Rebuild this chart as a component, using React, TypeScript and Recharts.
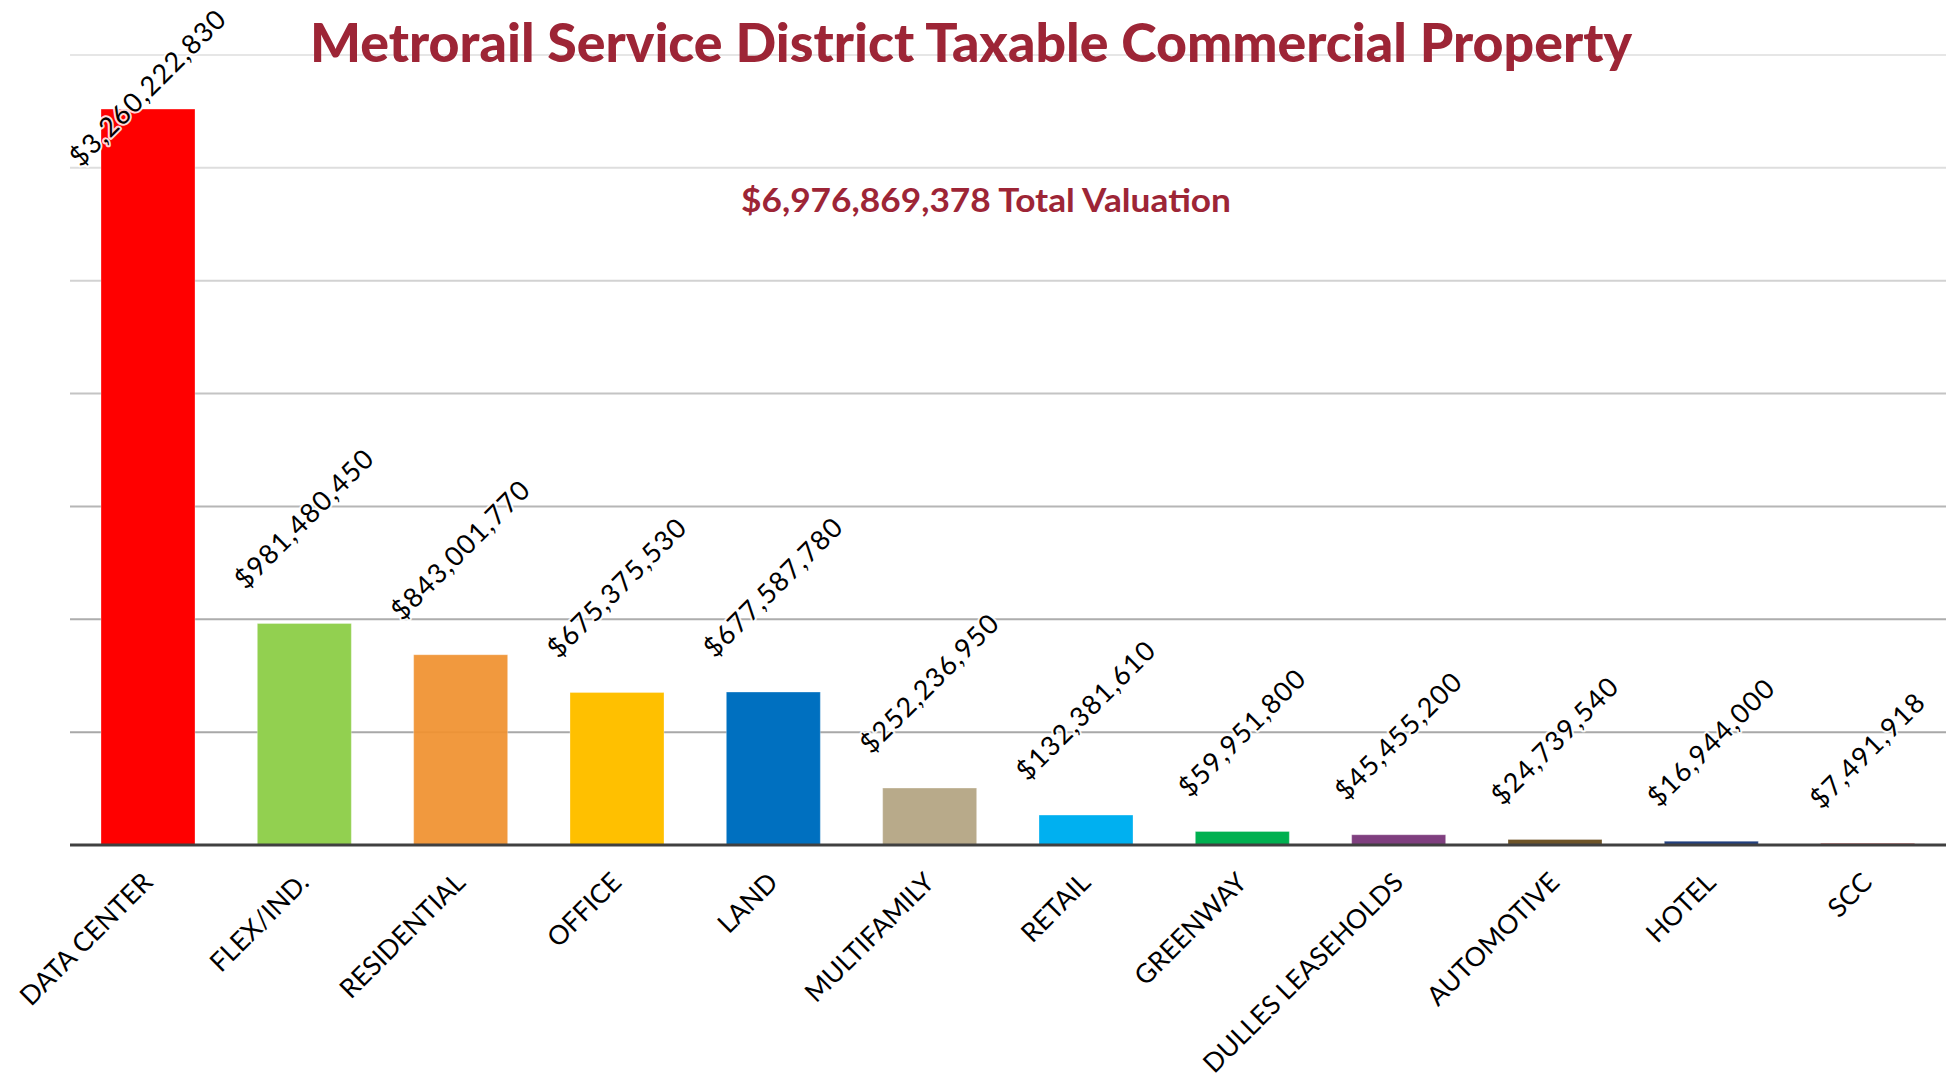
import React from 'react';
import { BarChart, Bar, XAxis, YAxis, Cell, LabelList, CartesianGrid } from 'recharts';

const categories = ['DATA CENTER', 'FLEX/IND.', 'RESIDENTIAL', 'OFFICE', 'LAND', 'MULTIFAMILY', 'RETAIL', 'GREENWAY', 'DULLES LEASEHOLDS', 'AUTOMOTIVE', 'HOTEL', 'SCC'];
const values = [3260222830, 981480450, 843001770, 675375530, 677587780, 252236950, 132381610, 59951800, 45455200, 24739540, 16944000, 7491918];
const valueLabels = ['$3,260,222,830', '$981,480,450', '$843,001,770', '$675,375,530', '$677,587,780', '$252,236,950', '$132,381,610', '$59,951,800', '$45,455,200', '$24,739,540', '$16,944,000', '$7,491,918'];
const barColors = ['#FF0000', '#92D050', '#F0912F', '#FFC000', '#0070C0', '#B8AA8A', '#00B0F0', '#00B050', '#7F3F7F', '#6E5428', '#22407F', '#C0504D'];
const barOpacity = [1, 1, 0.93, 1, 1, 1, 1, 1, 1, 1, 1, 1];
const yTicks = [0, 500000000, 1000000000, 1500000000, 2000000000, 2500000000, 3000000000, 3500000000];
const gridColors = ['#404040', '#a8a8a8', '#adadad', '#b6b6b6', '#c4c4c4', '#d2d2d2', '#dedede', '#e6e6e6'];

const TITLE = 'Metrorail Service District Taxable Commercial Property';
const SUBTITLE = '$6,976,869,378 Total Valuation';

const data = categories.map((c, i) => ({ name: c, value: values[i] }));

const FONT = 'Lato, "Open Sans", sans-serif';
const LABEL_SIZE = 27;
const LABEL_SPACING = 1.3;

let ctx: CanvasRenderingContext2D | null = null;
function measure(text: string): number {
  if (!ctx) {
    const c = document.createElement('canvas');
    ctx = c.getContext('2d');
  }
  if (!ctx) return text.length * 15;
  ctx.font = `${LABEL_SIZE}px Lato`;
  return ctx.measureText(text).width + text.length * LABEL_SPACING;
}

const DataLabel = (props: any) => {
  const { x, y, width, index } = props;
  const text = valueLabels[index];
  const L = measure(text);
  const h = 19;
  const c = Math.SQRT1_2;
  const w = c * (L + h);
  const cx = x + width / 2;
  let bottom = y - 33;
  let top = bottom - w;
  if (top < 7) {
    top = 7;
    bottom = top + w;
  }
  const left = cx - w / 2;
  const sx = left + c * h;
  const sy = bottom;
  return (
    <text
      x={sx}
      y={sy}
      transform={`rotate(-45 ${sx} ${sy})`}
      fontFamily={FONT}
      fontSize={LABEL_SIZE}
      fill="#000"
      stroke="#ffffff"
      strokeWidth={4}
      strokeOpacity={0.85}
      strokeLinejoin="round"
      paintOrder="stroke"
      style={{ letterSpacing: `${LABEL_SPACING}px` }}
    >
      {text}
    </text>
  );
};

const XTick = (props: any) => {
  const { x, y, payload } = props;
  const ex = x + 6;
  const ey = y + 31;
  return (
    <text
      x={ex}
      y={ey}
      transform={`rotate(-45 ${ex} ${ey})`}
      textAnchor="end"
      fontFamily={FONT}
      fontSize={26.5}
      fill="#000"
    >
      {payload.value}
    </text>
  );
};

const GridLine = (props: any) => {
  const { x1, x2, y1, y2, index } = props;
  const color = gridColors[index] ?? '#cccccc';
  return <line x1={x1} x2={x2} y1={y1} y2={y2} stroke={color} strokeWidth={2} />;
};

export default function App() {
  return (
    <div style={{ position: 'absolute', left: 0, top: 0, width: 1946, height: 1074, background: '#fff' }}>
      <BarChart
        width={1946}
        height={1074}
        data={data}
        margin={{ top: 55, right: 0, left: 70, bottom: 0 }}
      >
        <CartesianGrid vertical={false} horizontal={(p: any) => <GridLine key={p.key} {...p} />} />
        <YAxis hide domain={[0, 3500000000]} ticks={yTicks} type="number" />
        <XAxis
          dataKey="name"
          height={229}
          interval={0}
          tickLine={false}
          axisLine={{ stroke: '#404040', strokeWidth: 3 }}
          tick={<XTick />}
        />
        <Bar dataKey="value" barSize={94} isAnimationActive={false}>
          {data.map((d, i) => (
            <Cell key={d.name} fill={barColors[i]} fillOpacity={barOpacity[i]} stroke="rgba(255,255,255,0.3)" strokeWidth={1} />
          ))}
          <LabelList dataKey="value" content={<DataLabel />} />
        </Bar>
      </BarChart>
      <svg width={1946} height={1074} style={{ position: 'absolute', left: 0, top: 0, pointerEvents: 'none' }}>
        <text
          x={971}
          y={62}
          textAnchor="middle"
          fontFamily={FONT}
          fontWeight={900}
          fontSize={53}
          fill="#9D2536"
          textLength={1322}
          lengthAdjust="spacingAndGlyphs"
        >
          {TITLE}
        </text>
        <text
          x={986}
          y={212}
          textAnchor="middle"
          fontFamily={FONT}
          fontWeight={700}
          fontSize={33}
          fill="#9D2536"
          textLength={490}
          lengthAdjust="spacingAndGlyphs"
        >
          {SUBTITLE}
        </text>
      </svg>
    </div>
  );
}
